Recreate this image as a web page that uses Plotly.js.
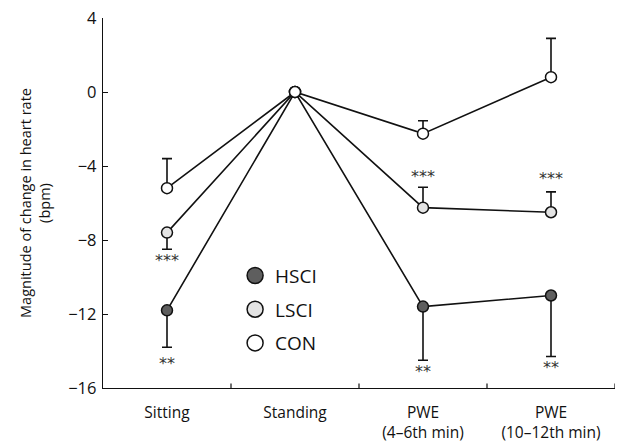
<!DOCTYPE html>
<html><head><meta charset="utf-8">
<script src="https://cdn.plot.ly/plotly-3.0.1.min.js"></script>
<style>html,body{margin:0;padding:0;background:#fff}#c{width:623px;height:444px}</style>
</head><body><div id="c"></div>
<script>
const categories = ["Sitting", "Standing", "PWE<br>(4–6th min)", "PWE<br>(10–12th min)"];
const seriesNames = ["HSCI", "LSCI", "CON"];
const hsci = [-11.8, 0, -11.6, -11.0];
const hsciErrUp = [0, 0, 0, 0];
const hsciErrDown = [2.0, 0, 2.9, 3.3];
const lsci = [-7.6, 0, -6.25, -6.5];
const lsciErrUp = [0, 0, 1.1, 1.1];
const lsciErrDown = [0.9, 0, 0, 0];
const con = [-5.2, 0, -2.25, 0.8];
const conErrUp = [1.6, 0, 0.7, 2.1];
const conErrDown = [0, 0, 0, 0];
const starText = ["***", "**", "***", "**", "***", "**"];
const starCat = [0, 0, 2, 2, 3, 3];
const starY = [-9.1, -14.65, -4.55, -15.1, -4.65, -14.9];
const yTicks = [4, 0, -4, -8, -12, -16];

const fills = ["#5e5e5e", "#e4e4e4", "#ffffff"];
const ys = [hsci, lsci, con];
const ups = [hsciErrUp, lsciErrUp, conErrUp];
const downs = [hsciErrDown, lsciErrDown, conErrDown];
const xIdx = categories.map((c, i) => i);

const traces = ys.map((y, k) => ({
  type: "scatter", mode: "lines+markers", name: seriesNames[k], showlegend: false,
  x: xIdx, y: y,
  line: {color: "#111", width: 1.6},
  marker: {size: 11, color: fills[k], line: {color: "#111", width: 1.5}},
  error_y: {type: "data", symmetric: false, array: ups[k], arrayminus: downs[k],
            color: "#111", thickness: 1.6, width: 5}
}));
const legendTraces = seriesNames.map((n, k) => ({
  type: "scatter", mode: "markers", name: n, legendgroup: n, showlegend: true,
  x: [null], y: [null],
  marker: {size: 18, color: fills[k], line: {color: "#111", width: 1.5}}
}));

const annotations = starText.map((t, i) => ({
  x: starCat[i], y: starY[i], xref: "x", yref: "y", text: t, showarrow: false,
  font: {size: 16, color: "#333", family: "DejaVu Sans"}
}));

Plotly.newPlot("c", traces.concat(legendTraces), {
  width: 623, height: 444,
  margin: {l: 103, r: 8, t: 18, b: 56},
  paper_bgcolor: "#fff", plot_bgcolor: "#fff",
  font: {family: "Open Sans", color: "#111", size: 14},
  showlegend: true,
  legend: {x: 0.258, y: 0.355, xanchor: "left", yanchor: "top", bgcolor: "rgba(0,0,0,0)",
           font: {size: 19, family: "Open Sans"}, itemsizing: "trace", tracegroupgap: 6,
           traceorder: "grouped"},
  xaxis: {range: [-0.5, 3.5], tickvals: xIdx, ticktext: categories, tickmode: "array",
          showgrid: false, zeroline: false, showline: true, linecolor: "#111", linewidth: 1.2,
          ticks: "", ticklabelstandoff: 10, tickfont: {size: 15.5}},
  yaxis: {range: [-16, 4], tickvals: yTicks, ticktext: yTicks.map(v => v < 0 ? "−" + Math.abs(v) : String(v)),
          tickmode: "array", showgrid: false, zeroline: false, showline: true, linecolor: "#111",
          linewidth: 1.2, ticks: "inside", ticklen: 5, tickcolor: "#111", tickfont: {size: 16.5},
          ticklabelstandoff: 2,
          title: {text: "Magnitude of change in heart rate<br>(bpm)", font: {size: 14.5}, standoff: 14}},
  annotations: annotations,
  shapes: [0.5, 1.5, 2.5, 3.5].map(b => ({type: "line", xref: "x", yref: "paper", x0: b, x1: b, y0: 0, y1: 0.012,
           line: {color: "#111", width: 1.2}}))
}, {staticPlot: true});
</script></body></html>
